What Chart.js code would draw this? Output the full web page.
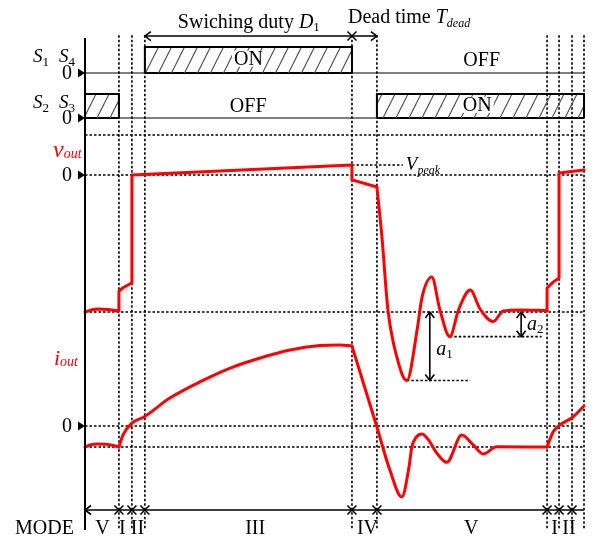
<!DOCTYPE html>
<html>
<head>
<meta charset="utf-8">
<script src="https://cdn.jsdelivr.net/npm/chart.js@4/dist/chart.umd.min.js"></script>
<style>
  html, body { margin: 0; padding: 0; background: #fff; }
</style>
</head>
<body>
<canvas id="c" width="600" height="541"></canvas>
<script>
// time axis: % of one switching period, 0 = left axis
const modeEdges = [6.8, 9.4, 12.0, 53.5, 58.5, 92.6, 95.0, 97.6, 100];
const modeNames = ['V', 'I', 'II', 'III', 'IV', 'V', 'I', 'II'];
const modeNameAt = [3.5, 7.5, 10.5, 34.1, 56.6, 77.4, 94.1, 97.0];

// gate signals (ON intervals)
const s14On = [[12.0, 53.5]];
const s23On = [[0, 6.8], [58.5, 100]];

// vout, in % of the negative dc level (0 = zero line, -100 = flat bottom)
const voutStart = [[0, -100], [1.2, -98.6], [2.4, -97.8], [4.6, -98.2], [6.8, -99.3], [6.8, -84.7],
  [7.6, -82.3], [8.5, -80.5], [9.4, -78.8], [9.4, 0], [53.5, 7.3], [53.5, -3.6], [58.5, -8.8]];
const voutRinging = [[58.5, -8.8], [59.5, -45], [60.7, -98], [62.5, -133], [64.5, -150], [66.6, -112],
  [67.5, -90], [69.5, -74.5], [71.1, -98], [73.1, -118], [74.9, -98], [77.2, -84], [79.2, -98],
  [81.8, -107], [83.8, -99.3], [87.2, -98.5], [92.6, -99]];
const voutEnd = [[92.6, -99], [92.6, -82.5], [93.8, -78.2], [95.0, -75.2], [95.0, 1.5], [100, 3.6]];
const vPeak = 7.3;
const vDc = -100;
const a1Level = -150;
const a2Level = -118;

// iout, -10 = flat negative level
const ioutStart = [[0, -10], [1.2, -8.9], [2.4, -8.6], [4.6, -8.8], [6.8, -10]];
const ioutRise = [[6.8, -10], [7.6, -4.3], [9.4, 1.4], [11.8, 4.3], [17.0, 13.3], [23.0, 21.0],
  [29.1, 27.6], [35.1, 32.4], [41.1, 36.2], [47.1, 38.3], [51.1, 38.6], [53.5, 38.1]];
const ioutRinging = [[53.5, 38.1], [58.5, -0.5], [61.1, -21], [63.5, -33.8], [64.9, -20], [65.5, -10],
  [66.3, -5.5], [67.5, -3.8], [68.8, -6.5], [70.5, -12.9], [72.5, -17.3], [75.5, -4.3], [77.8, -9],
  [79.8, -13.3], [82.5, -9.9], [92.6, -10]];
const ioutEnd = [[92.6, -10], [93.8, -2.9], [95.2, 0.5], [97.8, 4.3], [100, 9.5]];
const iDc = -10;

// ---- layout (pixels) ----
const W = 600, H = 541;
const RED = '#ff0000';
const SERIF = '"Liberation Serif", "Times New Roman", serif';

function xScale(axisPx, pxPerUnit) {
  return { type: 'linear', display: false, min: -axisPx / pxPerUnit, max: (W - axisPx) / pxPerUnit };
}
function yScale(zeroPx, pxPerUnit) {
  return { type: 'linear', display: false, min: -(H - zeroPx) / pxPerUnit, max: zeroPx / pxPerUnit };
}

const pts = arr => arr.map(([x, y]) => ({ x, y }));

function hatchPattern(ctx) {
  const c = document.createElement('canvas');
  c.width = 13; c.height = 26;
  const g = c.getContext('2d');
  g.strokeStyle = '#505050';
  g.lineWidth = 1.2;
  [-13, 0, 13].forEach(dx => {
    g.beginPath();
    g.moveTo(dx - 3, 32);
    g.lineTo(dx + 16, -6);
    g.stroke();
  });
  return ctx.createPattern(c, 'repeat');
}

const canvas = document.getElementById('c');
const ctx = canvas.getContext('2d');
const hatch = hatchPattern(ctx);

// hatched ON box: outline (left, top, right) filled down to 0
function boxDataset(on, axis) {
  return {
    data: pts([[on[0], 0], [on[0], 1], [on[1], 1], [on[1], 0]]),
    yAxisID: axis,
    borderColor: '#000',
    borderWidth: 2,
    backgroundColor: hatch,
    fill: 'origin',
    tension: 0
  };
}
// bottom edge of the box
function boxBottom(on, axis) {
  return {
    data: pts([[on[0], 0], [on[1], 0]]),
    yAxisID: axis,
    borderColor: '#000',
    borderWidth: 2,
    fill: false
  };
}
function wave(arr, axis, smooth) {
  return {
    data: pts(arr),
    yAxisID: axis,
    borderColor: RED,
    borderWidth: 3,
    fill: false,
    tension: 0,
    cubicInterpolationMode: smooth ? 'monotone' : 'default',
    borderCapStyle: 'round',
    borderJoinStyle: 'round'
  };
}

// ---- drawing helpers ----
function seg(c, x1, y1, x2, y2) {
  c.beginPath(); c.moveTo(x1, y1); c.lineTo(x2, y2); c.stroke();
}
function chevron(c, x, y, dir, size) {
  // dir = direction the arrow points
  const s = size;
  c.beginPath();
  if (dir === 'l') { c.moveTo(x + s, y - s * 0.75); c.lineTo(x, y); c.lineTo(x + s, y + s * 0.75); }
  if (dir === 'r') { c.moveTo(x - s, y - s * 0.75); c.lineTo(x, y); c.lineTo(x - s, y + s * 0.75); }
  if (dir === 'u') { c.moveTo(x - s * 0.75, y + s); c.lineTo(x, y); c.lineTo(x + s * 0.75, y + s); }
  if (dir === 'd') { c.moveTo(x - s * 0.75, y - s); c.lineTo(x, y); c.lineTo(x + s * 0.75, y - s); }
  c.stroke();
}
function cross(c, x, y, s) {
  seg(c, x - s, y - s, x + s, y + s);
  seg(c, x - s, y + s, x + s, y - s);
}
function font(size, italic) {
  return (italic ? 'italic ' : '') + size + 'px ' + SERIF;
}
// parts: [text, size, italic, dy]
function rich(c, x, y, parts, align) {
  let w = 0;
  parts.forEach(p => { c.font = font(p[1], p[2]); w += c.measureText(p[0]).width; });
  let cx = align === 'center' ? x - w / 2 : align === 'right' ? x - w : x;
  c.textAlign = 'left';
  parts.forEach(p => {
    c.font = font(p[1], p[2]);
    c.fillText(p[0], cx, y + (p[3] || 0));
    cx += c.measureText(p[0]).width;
  });
}

const diagram = {
  id: 'diagram',
  beforeDatasetsDraw(chart) {
    const c = chart.ctx;
    const s = chart.scales;
    const X = t => s.x.getPixelForValue(t);
    c.save();
    c.strokeStyle = '#000';

    // switch-row zero lines
    c.lineWidth = 1;
    [s.yS14, s.yS23].forEach(sc => seg(c, X(0), sc.getPixelForValue(0), X(100), sc.getPixelForValue(0)));

    // dotted guides
    c.lineWidth = 1.6;
    c.setLineDash([2.5, 2]);
    const top = s.yS14.getPixelForValue(1.45);
    const bottom = s.yI.getPixelForValue(-49.5);
    modeEdges.forEach(t => seg(c, X(t), top, X(t), bottom));
    [[s.yV, 29.2], [s.yV, 0], [s.yV, vDc], [s.yI, 0], [s.yI, iDc]].forEach(([sc, v]) =>
      seg(c, X(0), sc.getPixelForValue(v), X(100), sc.getPixelForValue(v)));
    seg(c, X(53.5), s.yV.getPixelForValue(vPeak), X(63.7), s.yV.getPixelForValue(vPeak));
    seg(c, X(64.5), s.yV.getPixelForValue(a1Level), X(77.2), s.yV.getPixelForValue(a1Level));
    seg(c, X(73.1), s.yV.getPixelForValue(a2Level), X(91.5), s.yV.getPixelForValue(a2Level));
    c.restore();
  },
  afterDatasetsDraw(chart) {
    const c = chart.ctx;
    const s = chart.scales;
    const X = t => s.x.getPixelForValue(t);
    const x0 = X(0);
    c.save();
    c.strokeStyle = '#000';
    c.fillStyle = '#000';
    c.setLineDash([]);

    // left axis
    c.lineWidth = 2;
    seg(c, x0, s.yS14.getPixelForValue(1.35), x0, s.yI.getPixelForValue(-49.5));

    // zero markers + "0"
    c.textBaseline = 'middle';
    [[s.yS14, 0], [s.yS23, 0], [s.yV, 0], [s.yI, 0]].forEach(([sc, v]) => {
      const y = sc.getPixelForValue(v);
      c.beginPath();
      c.moveTo(x0 - 7, y - 4.5); c.lineTo(x0, y); c.lineTo(x0 - 7, y + 4.5); c.closePath();
      c.fill();
      c.font = font(20, false);
      c.textAlign = 'right';
      c.fillText('0', x0 - 13, y + 1);
    });

    // row labels
    c.textBaseline = 'alphabetic';
    const y14 = s.yS14.getPixelForValue(0.42);
    rich(c, x0 - 52, y14, [['S', 19, true], ['1', 13, false, 4]], 'left');
    rich(c, x0 - 26, y14, [['S', 19, true], ['4', 13, false, 4]], 'left');
    const y23 = s.yS23.getPixelForValue(0.42);
    rich(c, x0 - 52, y23, [['S', 19, true], ['2', 13, false, 4]], 'left');
    rich(c, x0 - 26, y23, [['S', 19, true], ['3', 13, false, 4]], 'left');
    c.fillStyle = RED;
    rich(c, x0 - 32, s.yV.getPixelForValue(13), [['v', 24, true], ['out', 14, true, 1]], 'left');
    rich(c, x0 - 31, s.yI.getPixelForValue(29), [['i', 22, true], ['out', 14, true, 1]], 'left');
    c.fillStyle = '#000';

    // ON / OFF texts
    c.textBaseline = 'middle';
    const onOff = [
      ['ON', X(32.75), s.yS14.getPixelForValue(0.55), true],
      ['OFF', X(79.5), s.yS14.getPixelForValue(0.5), false],
      ['OFF', X(32.7), s.yS23.getPixelForValue(0.5), false],
      ['ON', X(78.6), s.yS23.getPixelForValue(0.55), true]
    ];
    c.font = font(20, false);
    onOff.forEach(([txt, x, y, boxed]) => {
      if (boxed) {
        const w = c.measureText(txt).width;
        c.fillStyle = '#fff';
        c.fillRect(x - w / 2 - 2, y - 8, w + 4, 16);
        c.fillStyle = '#000';
      }
      c.textAlign = 'center';
      c.fillText(txt, x, y + 1);
    });

    // duty / dead-time arrow on top
    c.lineWidth = 1.5;
    const yTop = s.yS14.getPixelForValue(1.42);
    seg(c, X(12), yTop, X(58.5), yTop);
    chevron(c, X(12), yTop, 'l', 6);
    cross(c, X(53.5), yTop, 4.5);
    chevron(c, X(58.5), yTop, 'r', 6);
    c.textBaseline = 'alphabetic';
    rich(c, X(18.6), s.yS14.getPixelForValue(1.73),
      [['Swiching duty ', 20, false], ['D', 20, true], ['1', 13, false, 3]], 'left');
    rich(c, X(52.7), s.yS14.getPixelForValue(1.92),
      [['Dead time ', 20, false], ['T', 20, true], ['dead', 12, true, 4]], 'left');

    // Vpeak label
    rich(c, X(64.3), s.yV.getPixelForValue(vPeak) + 5, [['V', 19, true], ['peak', 12, true, 4]], 'left');

    // a1 / a2 arrows
    c.lineWidth = 1.6;
    [[69.1, a1Level], [87.4, a2Level]].forEach(([t, lvl]) => {
      const x = X(t), yA = s.yV.getPixelForValue(vDc), yB = s.yV.getPixelForValue(lvl);
      seg(c, x, yA, x, yB);
      chevron(c, x, yA, 'u', 6);
      chevron(c, x, yB, 'd', 6);
    });
    rich(c, X(70.4), s.yV.getPixelForValue(-131.4), [['a', 20, true], ['1', 13, false, 3]], 'left');
    rich(c, X(88.6), s.yV.getPixelForValue(-113.1), [['a', 20, true], ['2', 13, false, 3]], 'left');

    // mode axis
    c.lineWidth = 1.6;
    const yMode = s.yI.getPixelForValue(-40);
    seg(c, x0, yMode, X(100), yMode);
    chevron(c, x0, yMode, 'l', 6);
    modeEdges.filter(t => t < 100).forEach(t => cross(c, X(t), yMode, 4.5));
    const yName = s.yI.getPixelForValue(-51.4);
    c.font = font(20, false);
    c.textAlign = 'center';
    modeNames.forEach((m, i) => c.fillText(m, X(modeNameAt[i]), yName));
    c.textAlign = 'left';
    c.fillText('MODE', x0 - 70, yName);

    c.restore();
  }
};

const datasets = [
  ...s14On.map(on => boxDataset(on, 'yS14')),
  ...s14On.map(on => boxBottom(on, 'yS14')),
  ...s23On.map(on => boxDataset(on, 'yS23')),
  ...s23On.map(on => boxBottom(on, 'yS23')),
  wave(voutStart, 'yV', false),
  wave(voutRinging, 'yV', true),
  wave(voutEnd, 'yV', false),
  wave(ioutStart, 'yI', true),
  wave(ioutRise, 'yI', true),
  wave(ioutRinging, 'yI', true),
  wave(ioutEnd, 'yI', true)
];

new Chart(ctx, {
  type: 'line',
  data: { datasets },
  options: {
    responsive: false,
    animation: false,
    layout: { padding: 0 },
    elements: { point: { radius: 0 } },
    plugins: { legend: { display: false }, tooltip: { enabled: false } },
    scales: {
      x: xScale(85, 4.99),
      yS14: yScale(73, 26),
      yS23: yScale(118, 24),
      yV: yScale(175, 1.37),
      yI: yScale(426, 2.1)
    }
  },
  plugins: [diagram]
});
</script>
</body>
</html>
